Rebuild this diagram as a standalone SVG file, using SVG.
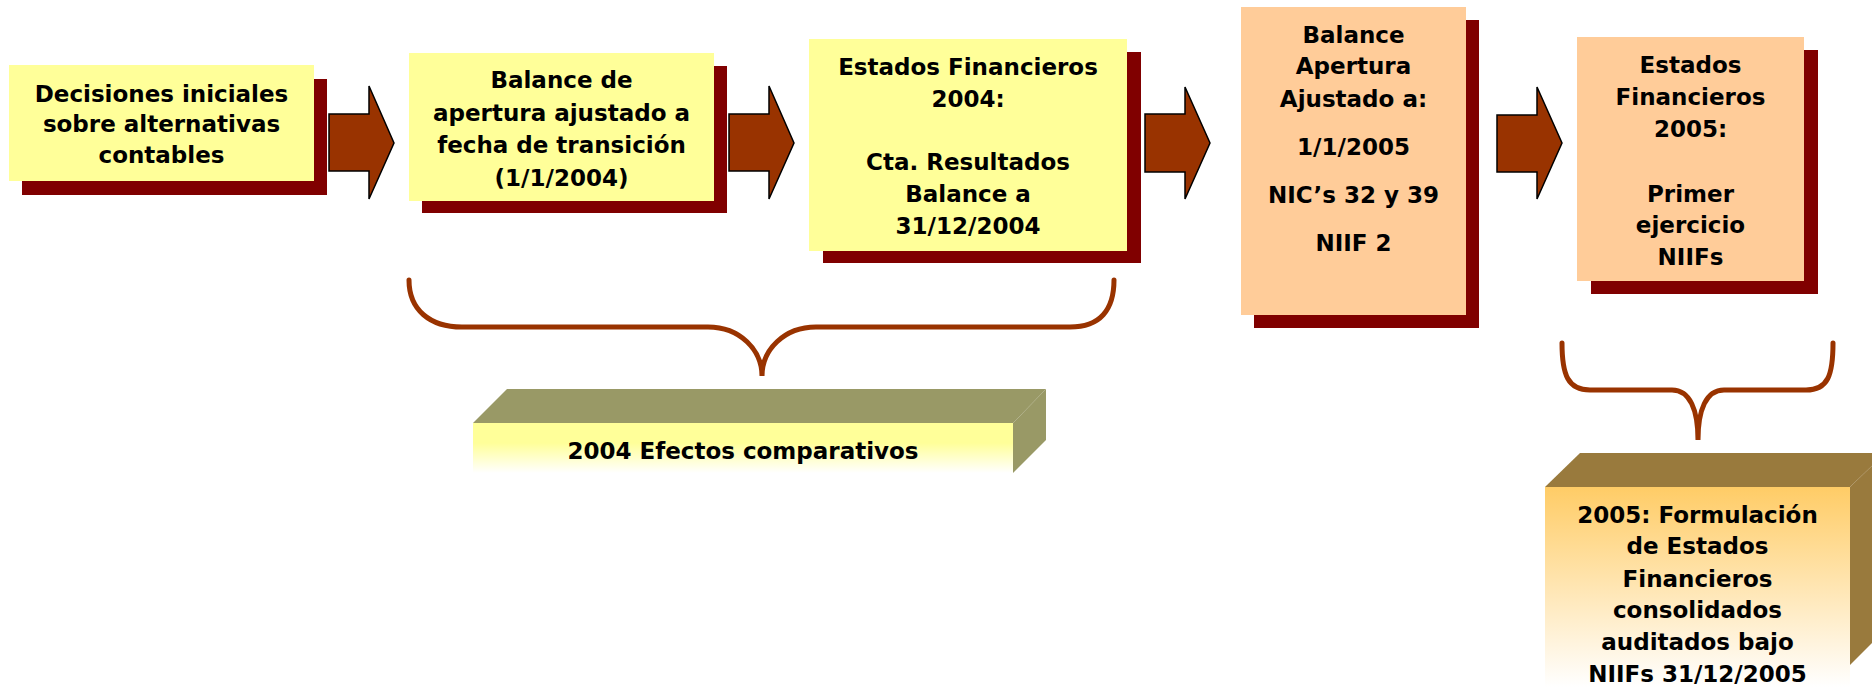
<svg xmlns="http://www.w3.org/2000/svg" width="1872" height="687" viewBox="0 0 1872 687">
<defs>
<linearGradient id="gY" x1="0" y1="0" x2="0" y2="1">
<stop offset="0" stop-color="#FFFF99"/>
<stop offset="0.4" stop-color="#FFFF99"/>
<stop offset="1" stop-color="#FFFFFF"/>
</linearGradient>
<linearGradient id="gO" x1="0" y1="0" x2="0" y2="1">
<stop offset="0" stop-color="#FFCC66"/>
<stop offset="1" stop-color="#FFFFFF"/>
</linearGradient>
</defs>
<style>
.sh{fill:#800000}
.y{fill:#FFFF99}
.o{fill:#FFCC99}
.t{font-family:"DejaVu Sans","Verdana",sans-serif;font-weight:bold;font-size:23px;fill:#000;text-anchor:middle}
.arr{fill:#993300;stroke:#000;stroke-width:1.5;stroke-linejoin:miter}
.brace{fill:none;stroke:#993300;stroke-width:5;stroke-linecap:round}
.olive{fill:#999966}
.brown{fill:#997A3D}
</style>
<rect width="1872" height="687" fill="#FFFFFF"/>

<g id="connectors">
<polygon class="arr" points="329,114 369,114 369,86 394,143 369,199 369,171 329,171"/>
<polygon class="arr" points="729,114 769,114 769,86 794,143 769,199 769,171 729,171"/>
<polygon class="arr" points="1145,114 1185,114 1185,87 1210,143 1185,199 1185,172 1145,172"/>
<polygon class="arr" points="1497,115 1537,115 1537,87 1562,143 1537,199 1537,172 1497,172"/>
<path class="brace" d="M409,280 C409,310 430,327 462,327 L708,327 C740,327 762,350 762,376 C762,350 784,327 816,327 L1070,327 C1100,327 1114,310 1114,280"/>
<path class="brace" d="M1562,343 C1562,375 1568,390 1590,390 L1672,390 C1690,390 1698,410 1698,440 C1698,410 1706,390 1724,390 L1806,390 C1828,390 1833,375 1833,343"/>
</g>

<g id="node1">
<rect class="sh" x="22" y="79" width="305" height="116"/>
<rect class="y" x="9" y="65" width="305" height="116"/>
<text class="t"><tspan x="161.5" y="102">Decisiones iniciales</tspan><tspan x="161.5" y="132">sobre alternativas</tspan><tspan x="161.5" y="163">contables</tspan></text>
</g>

<g id="node2">
<rect class="sh" x="422" y="66" width="305" height="147"/>
<rect class="y" x="409" y="53" width="305" height="148"/>
<text class="t"><tspan x="561.5" y="88">Balance de</tspan><tspan x="561.5" y="121">apertura ajustado a</tspan><tspan x="561.5" y="153">fecha de transición</tspan><tspan x="561.5" y="186">(1/1/2004)</tspan></text>
</g>

<g id="node3">
<rect class="sh" x="823" y="52" width="318" height="211"/>
<rect class="y" x="809" y="39" width="318" height="212"/>
<text class="t"><tspan x="968" y="75">Estados Financieros</tspan><tspan x="968" y="107">2004:</tspan><tspan x="968" y="170">Cta. Resultados</tspan><tspan x="968" y="202">Balance a</tspan><tspan x="968" y="234">31/12/2004</tspan></text>
</g>

<g id="node4">
<rect class="sh" x="1254" y="20" width="225" height="308"/>
<rect class="o" x="1241" y="7" width="225" height="308"/>
<text class="t"><tspan x="1353.5" y="43">Balance</tspan><tspan x="1353.5" y="74">Apertura</tspan><tspan x="1353.5" y="107">Ajustado a:</tspan><tspan x="1353.5" y="155">1/1/2005</tspan><tspan x="1353.5" y="203">NIC’s 32 y 39</tspan><tspan x="1353.5" y="251">NIIF 2</tspan></text>
</g>

<g id="node5">
<rect class="sh" x="1591" y="50" width="227" height="244"/>
<rect class="o" x="1577" y="37" width="227" height="244"/>
<text class="t"><tspan x="1690.5" y="73">Estados</tspan><tspan x="1690.5" y="105">Financieros</tspan><tspan x="1690.5" y="137">2005:</tspan><tspan x="1690.5" y="202">Primer</tspan><tspan x="1690.5" y="233">ejercicio</tspan><tspan x="1690.5" y="265">NIIFs</tspan></text>
</g>

<g id="node6">
<polygon class="olive" points="473,423 507,389 1046,389 1013,423"/>
<polygon class="olive" points="1013,423 1046,389 1046,440 1013,473"/>
<rect x="473" y="423" width="540" height="50" fill="url(#gY)"/>
<text class="t"><tspan x="743" y="459">2004 Efectos comparativos</tspan></text>
</g>

<g id="node7">
<polygon class="brown" points="1545,487 1580,453 1885,453 1850,487"/>
<polygon class="brown" points="1850,487 1885,453 1885,630 1850,665"/>
<rect x="1545" y="487" width="305" height="200" fill="url(#gO)"/>
<text class="t"><tspan x="1697.5" y="523">2005: Formulación</tspan><tspan x="1697.5" y="554">de Estados</tspan><tspan x="1697.5" y="587">Financieros</tspan><tspan x="1697.5" y="618">consolidados</tspan><tspan x="1697.5" y="650">auditados bajo</tspan><tspan x="1697.5" y="682">NIIFs 31/12/2005</tspan></text>
</g>
</svg>
